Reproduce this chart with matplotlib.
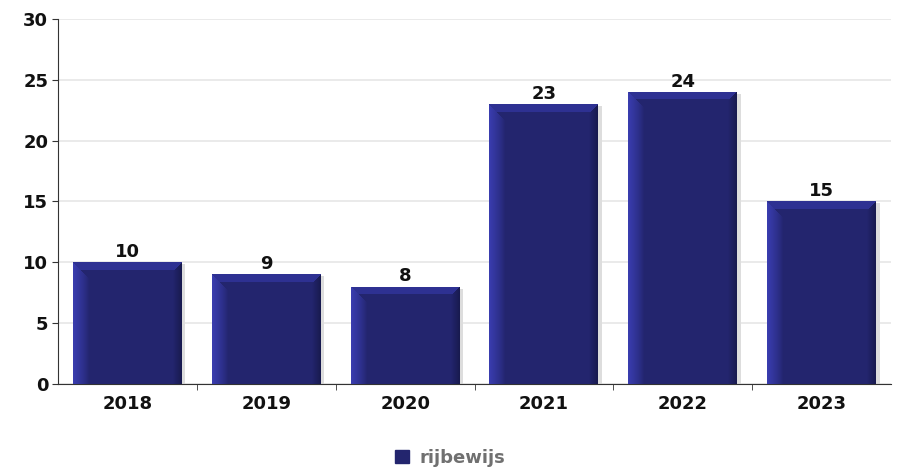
import matplotlib.pyplot as plt
import numpy as np
from matplotlib.patches import Rectangle

years = ["2018", "2019", "2020", "2021", "2022", "2023"]
counts = [10, 9, 8, 23, 24, 15]
series_name = "rijbewijs"

base = np.array([0x23, 0x25, 0x6e]) / 255.0
light = np.array([0x3a, 0x3d, 0xb0]) / 255.0
topc = np.array([0x2e, 0x31, 0x92]) / 255.0
dark = np.array([0x18, 0x1a, 0x4e]) / 255.0

fig = plt.figure(figsize=(9.01, 4.71), dpi=100)
ax = fig.add_axes([0.0644, 0.1847, 0.9246, 0.775])

x = np.arange(len(years))
bars = ax.bar(x, counts, width=0.785, color=base, zorder=3, label=series_name)

ax.set_xlim(-0.5, len(years) - 0.5)
ax.set_ylim(0, 30)

# pixels per data unit, used for the bevel sizes
p0 = ax.transData.transform((0, 0))
p1 = ax.transData.transform((1, 1))
sx, sy = p1[0] - p0[0], p1[1] - p0[1]

# shadow + bevelled face for each bar
for b in bars:
    x0, w, h = b.get_x(), b.get_width(), b.get_height()
    ax.add_patch(Rectangle((x0 + 3.5 / sx, 0), w, h - 2 / sy, color="#dddddd", zorder=2, lw=0))
    wp, hp = int(round(w * sx)), int(round(h * sy))
    xx = np.arange(wp)[None, :] + 0.5
    yy = np.arange(hp)[:, None] + 0.5
    dl = xx * np.ones_like(yy)
    dr = (wp - xx) * np.ones_like(yy)
    dt = yy * np.ones_like(xx)
    img = np.tile(base, (hp, wp, 1))
    lf = np.clip(1 - dl / 16.0, 0, 1) ** 0.8
    rf = np.clip(1 - dr / 9.0, 0, 1)
    mleft = (dl < 16) & (dl < dt)
    mright = (dr < 9) & (dr < dt)
    img[mleft] = base + (light - base) * lf[mleft][:, None]
    img[mright] = base + (dark - base) * rf[mright][:, None]
    mtop = (dt < 8) & (dt <= dl) & (dt <= dr)
    img[mtop] = topc
    im = ax.imshow(img, extent=(x0, x0 + w, 0, h), aspect="auto", zorder=3, interpolation="nearest")
    im.set_clip_path(b)
    ax.text(b.get_x() + w / 2, h + 0.1, str(int(h)), ha="center", va="bottom",
            fontsize=13, fontweight="bold", color="#111111", zorder=4)

ax.set_xlim(-0.5, len(years) - 0.5)
ax.set_ylim(0, 30)
ax.set_yticks(range(0, 31, 5))
ax.set_xticks(x)
ax.set_xticklabels(years)
ax.set_xticks(np.arange(0.5, len(years) - 0.5, 1), minor=True)
ax.tick_params(axis="x", which="major", length=0, pad=8)
ax.tick_params(axis="x", which="minor", length=4, direction="out", color="#333333")
ax.tick_params(axis="y", length=4, direction="out", color="#333333", pad=3)
for lbl in ax.get_xticklabels() + ax.get_yticklabels():
    lbl.set_fontsize(13)
    lbl.set_fontweight("bold")
    lbl.set_color("#111111")

ax.grid(axis="y", color="#e6e6e6", lw=1.2, zorder=0)
ax.set_axisbelow(True)
ax.spines["top"].set_visible(False)
ax.spines["right"].set_visible(False)
ax.spines["left"].set_color("#333333")
ax.spines["bottom"].set_color("#333333")

leg = ax.legend(handles=[Rectangle((0, 0), 1, 1, color=base)], labels=[series_name],
                loc="lower center", bbox_to_anchor=(0.5, -0.025), bbox_transform=fig.transFigure,
                frameon=False, handlelength=0.75, handleheight=0.75, handletextpad=0.6,
                prop={"weight": "bold", "size": 13})
for t in leg.get_texts():
    t.set_color("#707070")

fig.savefig("out.png", dpi=100)
